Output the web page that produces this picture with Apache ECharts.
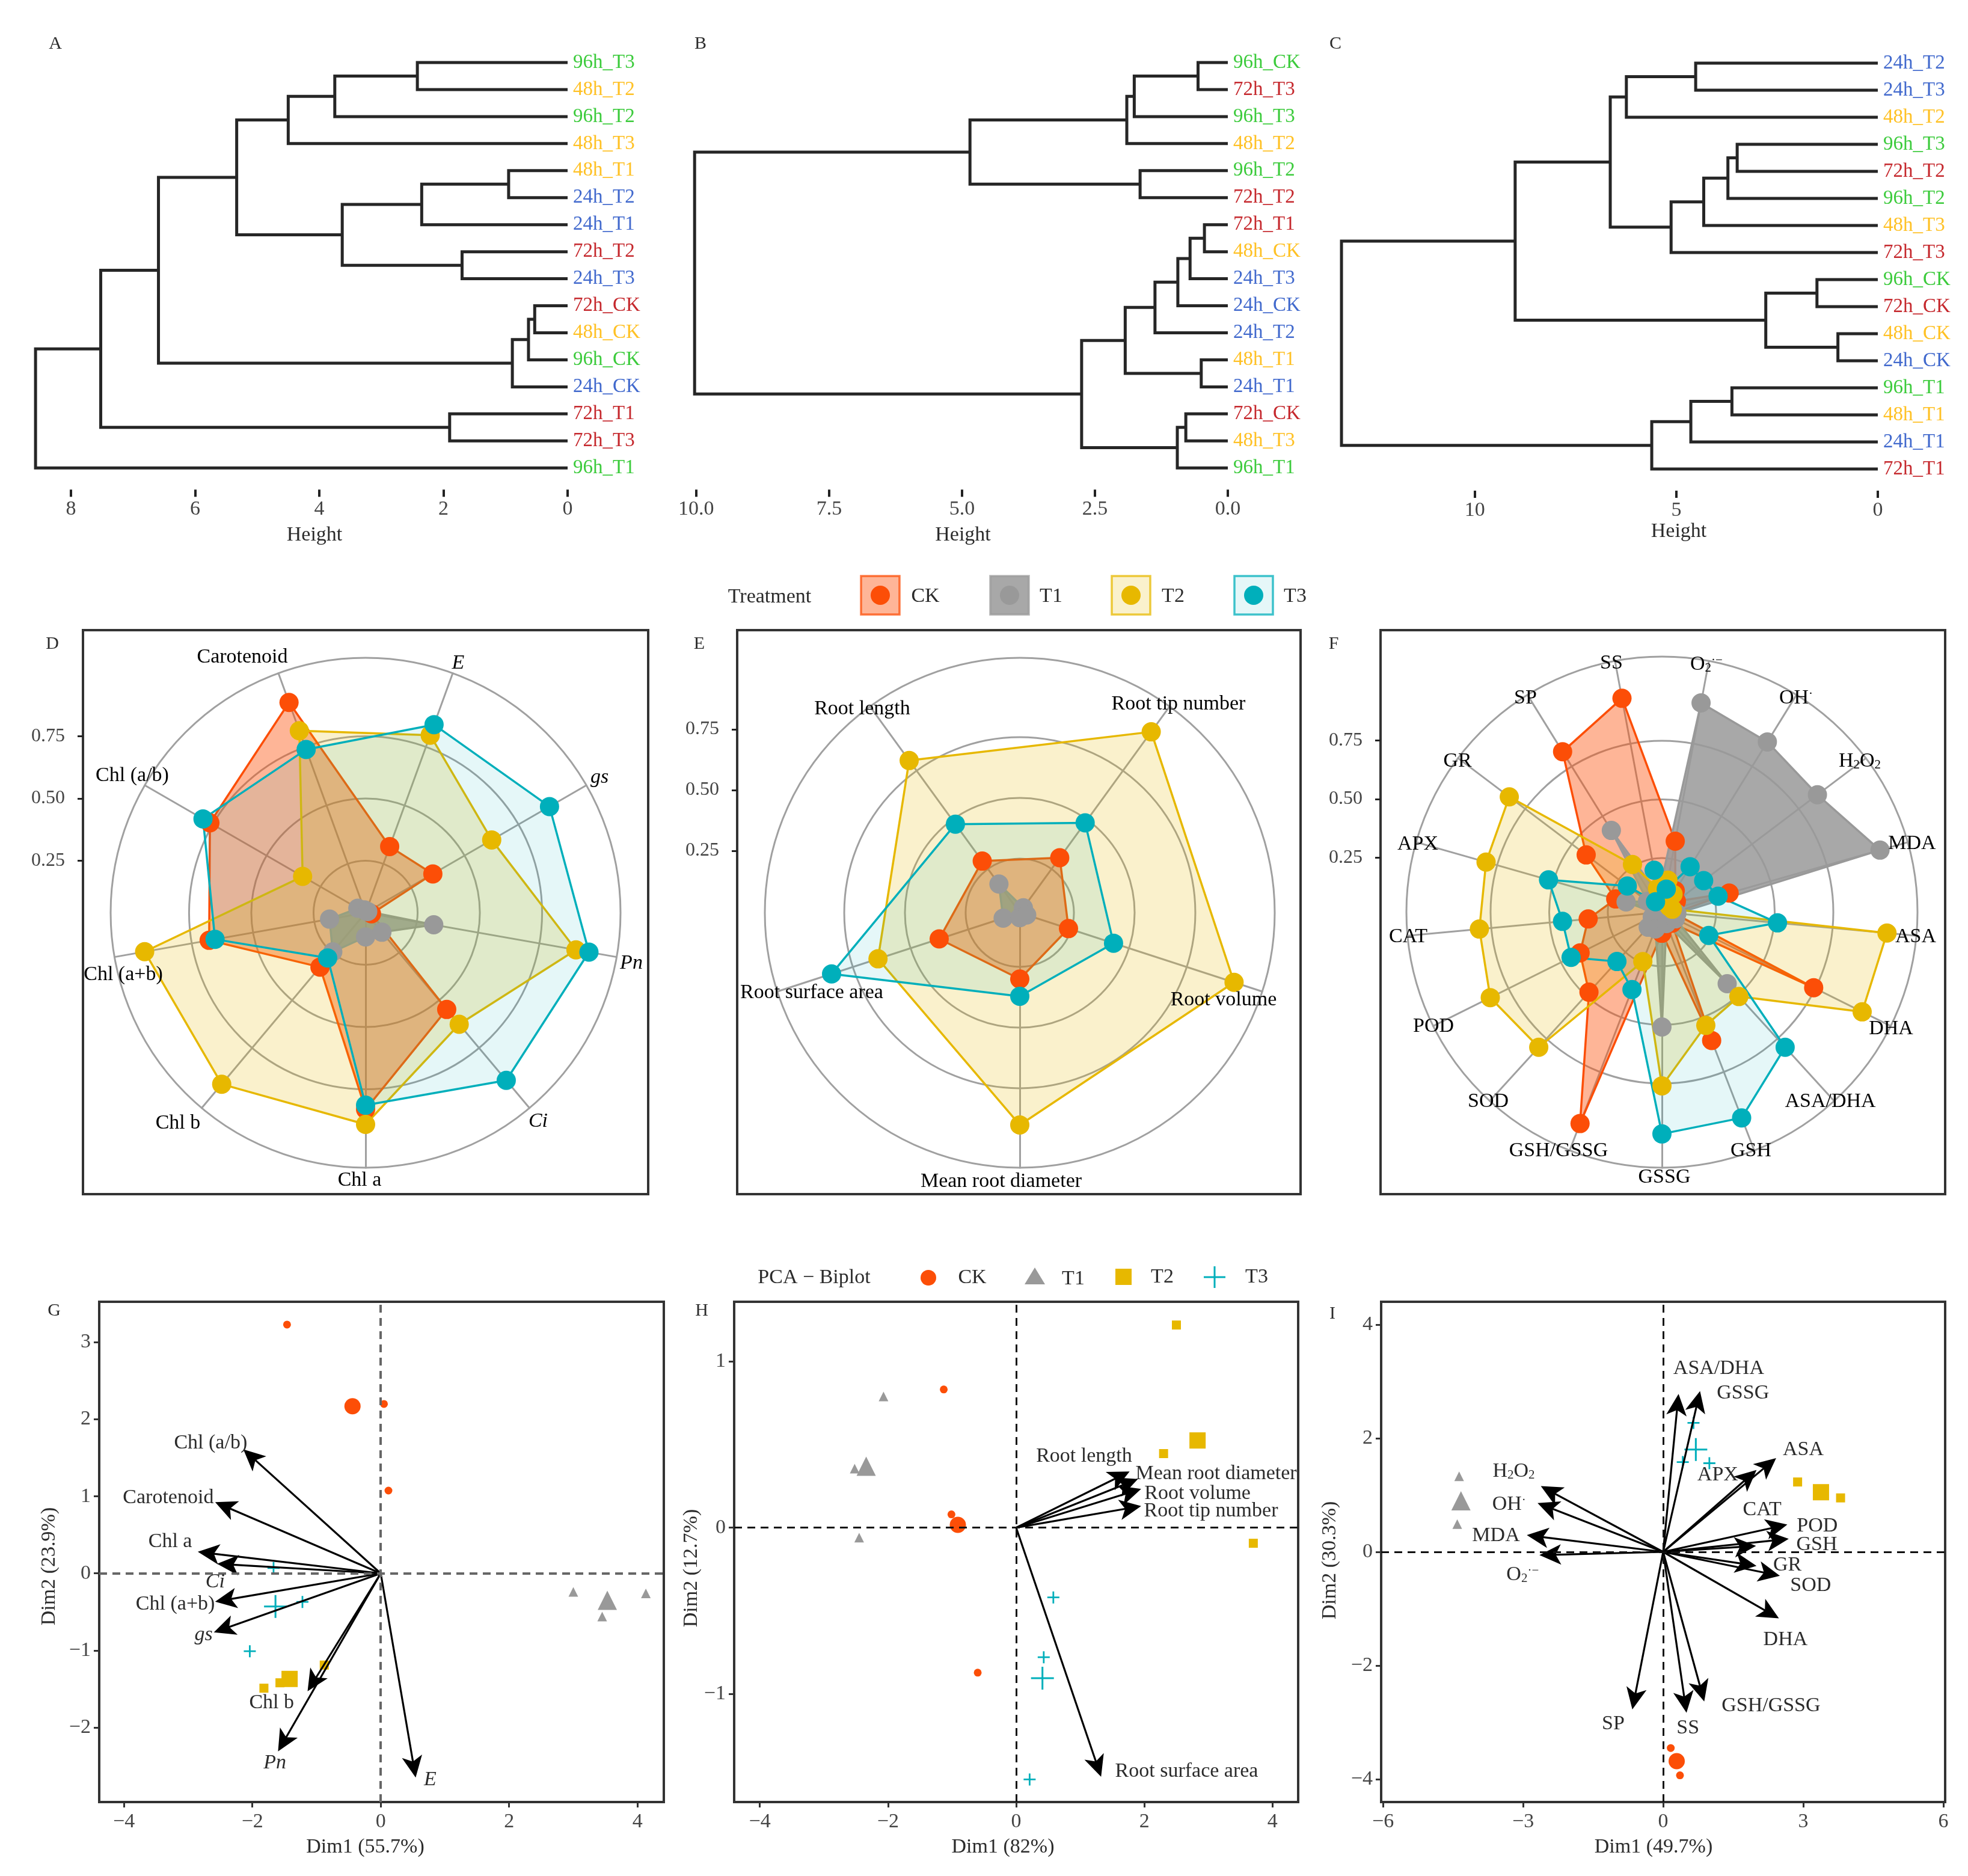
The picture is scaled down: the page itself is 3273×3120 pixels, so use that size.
<!DOCTYPE html>
<html><head><meta charset="utf-8">
<style>html,body{margin:0;padding:0;background:#fff}#c{width:3273px;height:3120px}</style>
<script src="https://cdn.jsdelivr.net/npm/echarts@6/dist/echarts.min.js"></script>
</head><body><div id="c"></div>
<script>
// ---------- DATA ----------
const leaves_A=['96h_T3','48h_T2','96h_T2','48h_T3','48h_T1','24h_T2','24h_T1','72h_T2','24h_T3','72h_CK','48h_CK','96h_CK','24h_CK','72h_T1','72h_T3','96h_T1'];
const tree_A=[8.57,[7.52,[6.59,[5.33,[4.5,[3.75,[2.42,0,1],2],3],[3.63,[2.35,[0.95,4,5],6],[1.7,7,8]]],[0.89,[0.63,[0.53,9,10],11],12]],[1.9,13,14]],15];
const leaves_B=['96h_CK','72h_T3','96h_T3','48h_T2','96h_T2','72h_T2','72h_T1','48h_CK','24h_T3','24h_CK','24h_T2','48h_T1','24h_T1','72h_CK','48h_T3','96h_T1'];
const tree_B=[10.03,[4.85,[1.9,[1.76,[0.56,0,1],2],3],[1.65,4,5]],[2.75,[1.93,[1.37,[0.94,[0.71,[0.44,6,7],8],9],10],[0.5,11,12]],[0.95,[0.79,13,14],15]]];
const leaves_C=['24h_T2','24h_T3','48h_T2','96h_T3','72h_T2','96h_T2','48h_T3','72h_T3','96h_CK','72h_CK','48h_CK','24h_CK','96h_T1','48h_T1','24h_T1','72h_T1'];
const tree_C=[13.31,[9.0,[6.64,[6.24,[4.52,0,1],2],[5.13,[4.32,[3.72,[3.49,3,4],5],6],7]],[2.78,[1.51,8,9],[0.99,10,11]]],[5.61,[4.64,[3.62,12,13],14],15]];
const ticks_A=[0,2,4,6,8], ticks_B=[0,2.5,5,7.5,10], ticks_C=[0,5,10];

const groups=['CK','T1','T2','T3'];
const radar_D_axes=['E','Carotenoid','Chl (a/b)','Chl (a+b)','Chl b','Chl a','Ci','Pn','gs'];
const radar_D_CK=[.324,.94,.763,.679,.326,.831,.548,.065,.353];
const radar_D_T1=[.048,.053,.077,.188,.246,.138,.143,.319,.051];
const radar_D_T2=[.80,.819,.333,.942,.94,.891,.626,.899,.626];
const radar_D_T3=[.845,.739,.795,.655,.278,.814,.92,.952,.894];
const radar_E_axes=['Root tip number','Root length','Root surface area','Mean root diameter','Root volume'];
const radar_E_CK=[.307,.29,.376,.3,.238];
const radar_E_T1=[.052,.173,.099,.047,.057];
const radar_E_T2=[.948,.802,.641,.901,.955];
const radar_E_T3=[.485,.478,.842,.371,.433];
const radar_F_axes=['O2','SS','SP','GR','APX','CAT','POD','SOD','GSH/GSSG','GSSG','GSH','ASA/DHA','DHA','ASA','MDA','H2O2','OH'];
const radar_F_CK=[.327,.947,.824,.424,.224,.335,.409,.481,.986,.109,.606,.083,.742,.071,.317,.096,.127];
const radar_F_T1=[.927,.096,.429,.096,.178,.05,.065,.106,.096,.509,.071,.432,.083,.083,.986,.85,.873];
const radar_F_T2=[.158,.122,.258,.835,.799,.801,.837,.799,.245,.76,.537,.506,.973,.983,.065,.058,.109];
const radar_F_T3=[.119,.201,.071,.204,.522,.445,.452,.304,.373,.965,.96,.799,.242,.514,.268,.242,.247];
const radial_ticks=[.25,.5,.75];

// PCA points: the last point of each list is the group centroid
const G_CK=[[-1.46,3.23],[.05,2.2],[.12,1.075],[-.44,2.17]];
const G_T1=[[3,-.24],[4.13,-.26],[3.45,-.56],[3.53,-.35]];
const G_T2=[[-1.82,-1.49],[-1.57,-1.42],[-.88,-1.19],[-1.42,-1.37]];
const G_T3=[[-1.67,.07],[-1.22,-.37],[-2.04,-1.01],[-1.64,-.43]];
const G_arrows=[[-2.14,1.61],[-2.58,.925],[-2.85,.28],[-2.55,.124],[-2.58,-.367],[-2.6,-.765],[-1.14,-1.53],[-1.6,-2.31],[.544,-2.65]];
const G_names=['Chl (a/b)','Carotenoid','Chl a','*Ci*','Chl (a+b)','*gs*','Chl b','*Pn*','*E*'];
const G_labels=[[-2.65,1.69],[-3.31,.98],[-3.28,.41],[-2.58,-.11],[-3.2,-.4],[-2.76,-.8],[-1.7,-1.68],[-1.65,-2.46],[.77,-2.68]];
const H_CK=[[-1.13,.832],[-1.01,.08],[-.6,-.873],[-.91,.017]];
const H_T1=[[-2.07,.79],[-2.52,.355],[-2.45,-.06],[-2.34,.37]];
const H_T2=[[2.5,1.22],[2.3,.446],[3.7,-.094],[2.83,.525]];
const H_T3=[[.58,-.42],[.43,-.78],[.21,-1.516],[.41,-.906]];
const H_arrows=[[1.77,.338],[1.9,.293],[1.95,.233],[1.95,.13],[1.325,-1.5]];
const H_names=['Root length','Mean root diameter','Root volume','Root tip number','Root surface area'];
const H_labels=[[1.06,.43],[3.12,.326],[2.83,.206],[3.04,.1],[2.66,-1.468]];
const I_CK=[[.163,-3.45],[.36,-3.93],[.27,-3.65],[.29,-3.68]];
const I_T1=[[-4.37,1.33],[-4.41,.49],[-4.34,.91],[-4.33,.9]];
const I_T2=[[2.88,1.23],[3.8,.95],[3.35,1.05],[3.38,1.05]];
const I_T3=[[.65,2.27],[.42,1.58],[.99,1.56],[.7,1.8]];
const I_arrows=[[.33,2.78],[.79,2.83],[2.42,1.65],[2,1.44],[2.66,.48],[1.99,.105],[2.69,.23],[2,-.245],[2.5,-.42],[2.48,-1.17],[.88,-2.63],[.5,-2.83],[-.66,-2.77],[-2.65,-.056],[-2.92,.295],[-2.69,.86],[-2.62,1.157]];
const I_names=['ASA/DHA','GSSG','ASA','APX','POD','CAT','GSH','GR','SOD','DHA','GSH/GSSG','SS','SP','O_2^·−','MDA','OH^·','H_2O_2'];
const I_labels=[[1.19,3.23],[1.71,2.79],[3,1.8],[1.17,1.35],[3.3,.456],[2.12,.74],[3.29,.126],[2.66,-.23],[3.16,-.596],[2.62,-1.55],[2.31,-2.71],[.53,-3.1],[-1.07,-3.03],[-3.01,-.4],[-3.58,.28],[-3.3,.84],[-3.2,1.42]];

// ---------- STYLE ----------
const FF='"Liberation Serif",serif', FS=34;
const C={CK:'#FC4E07',T1:'#999999',T2:'#E7B800',T3:'#00AFBB'};
const ALPHA={CK:.42,T1:.85,T2:.2,T3:.1};
const TIME={'24h':'#4169CD','48h':'#FFC125','72h':'#C5282D','96h':'#3CCB3C'};
const TXT='#2b2b2b', AX='#444';
const RICH={n:{fontFamily:FF,fontSize:FS,color:TXT},i:{fontFamily:FF,fontSize:FS,fontStyle:'italic',color:TXT},
  s:{fontFamily:FF,fontSize:21,color:TXT,verticalAlign:'bottom'},u:{fontFamily:FF,fontSize:21,color:TXT,verticalAlign:'top'}};
function rich(str){
  return str.replace(/_([^_^*])|\^(\S+)|\*([^*]+)\*|([^_^*]+)/g,(m,a,b,c,d)=>a?`{s|${a}}`:b?`{u|${b}}`:c?`{i|${c}}`:`{n|${d}}`);
}
const grids=[],xAxes=[],yAxes=[],series=[],radars=[],polars=[],radiusAxes=[],angleAxes=[],graphics=[];
function text(x,y,t,extra){graphics.push({type:'text',x,y,z:50,silent:true,style:Object.assign({text:t,fill:TXT,font:`${FS}px ${FF}`,align:'center',verticalAlign:'middle'},extra||{})});}
function rtext(x,y,t){graphics.push({type:'text',x,y,z:50,silent:true,style:{text:rich(t),rich:RICH,align:'center',verticalAlign:'middle'}});}

// ---------- DENDROGRAMS ----------
function segments(node,leaves,out){
  if(typeof node==='number')return {y:node,h:0};
  const a=segments(node[1],leaves,out),b=segments(node[2],leaves,out);
  out.push([node[0],a.y,a.h,b.y,b.h]);
  return {y:(a.y+b.y)/2,h:node[0]};
}
function dendro(leaves,tree,ticks,o){
  const gi=grids.length,segs=[];segments(tree,leaves,segs);
  grids.push({left:o.left,width:o.right-o.left,top:o.y0-o.step,height:o.step*(o.ymax+1)});
  xAxes.push({gridIndex:gi,type:'value',inverse:true,min:0,max:o.xmax,position:'bottom',
    name:'Height',nameLocation:'middle',nameGap:o.nameGap,nameTextStyle:{fontFamily:FF,fontSize:FS,color:TXT,padding:[0,0,0,Math.max(o.shift*2,0)]},
    splitLine:{show:false},axisLine:{show:false,onZero:false},
    axisTick:{show:true,inside:false,length:12,customValues:ticks,lineStyle:{color:'#222',width:4}},
    axisLabel:{show:true,customValues:ticks,fontFamily:FF,fontSize:FS,color:AX,margin:16,formatter:v=>o.fmt?Number(v).toFixed(1):String(v)}});
  yAxes.push({gridIndex:gi,type:'value',inverse:true,position:'right',min:-1,max:o.ymax,interval:1,
    splitLine:{show:false},axisLine:{show:false,onZero:false},axisTick:{show:false},
    axisLabel:{show:true,margin:9,fontFamily:FF,fontSize:FS-1,showMinLabel:false,showMaxLabel:false,
      formatter:v=>leaves[v]||'',color:v=>leaves[v]?TIME[leaves[v].slice(0,3)]:'#000'}});
  series.push({type:'custom',xAxisIndex:gi,yAxisIndex:gi,clip:false,silent:true,data:segs,
    encode:{x:0,y:1},
    renderItem:(p,api)=>{
      const h=api.value(0),ya=api.value(1),ha=api.value(2),yb=api.value(3),hb=api.value(4);
      return {type:'polyline',shape:{points:[api.coord([ha,ya]),api.coord([h,ya]),api.coord([h,yb]),api.coord([hb,yb])]},
        style:{fill:null,stroke:'#262626',lineWidth:5,lineJoin:'miter'}};
    }});
}
dendro(leaves_A,tree_A,ticks_A,{left:56,right:944,xmax:8.6,y0:104,step:44.95,ymax:15.8,nameGap:59,shift:23});
dendro(leaves_B,tree_B,ticks_B,{left:1149,right:2042,xmax:10.1,y0:104,step:44.95,ymax:15.8,nameGap:59,shift:6,fmt:true});
dendro(leaves_C,tree_C,ticks_C,{left:2225,right:3123,xmax:13.4,y0:105,step:45.0,ymax:15.8,nameGap:48,shift:118});

// ---------- RADARS ----------
function radarPanel(axes,vals,o){
  const gi=grids.length,ri=radars.length;
  grids.push({left:o.box[0],width:o.box[1]-o.box[0],top:1048,height:938,show:true,borderColor:'#333',borderWidth:4,backgroundColor:'transparent'});
  xAxes.push({gridIndex:gi,type:'value',min:0,max:1,show:false});
  yAxes.push({gridIndex:gi,type:'value',min:o.yr[0],max:o.yr[1],splitLine:{show:false},axisLine:{show:false},
    axisTick:{show:true,length:9,customValues:radial_ticks,lineStyle:{color:'#222',width:3}},
    axisLabel:{show:true,customValues:radial_ticks,fontFamily:FF,fontSize:FS-2,color:AX,margin:30,formatter:v=>Number(v).toFixed(2)}});
  polars.push({center:o.c,radius:[0,o.R]});
  angleAxes.push({polarIndex:ri,type:'value',min:0,max:360,show:false});
  radiusAxes.push({polarIndex:ri,type:'value',min:o.min,max:o.max,axisLine:{show:false},axisLabel:{show:false},
    axisTick:{show:false,customValues:radial_ticks.concat([o.max])},splitLine:{show:true,lineStyle:{color:'#a0a0a0',width:3}}});
  radars.push({center:o.c,radius:o.R,startAngle:o.start,shape:'circle',splitNumber:1,
    indicator:axes.map(n=>({name:n,min:o.min,max:o.max})),axisName:{show:false},
    axisLine:{show:true,lineStyle:{color:'#a0a0a0',width:3}},axisTick:{show:false},splitLine:{show:false},splitArea:{show:false}});
  // polygons first, so that the fills never veil the dots of the other groups
  groups.forEach((g,i)=>series.push({type:'radar',radarIndex:ri,name:g,symbol:'none',silent:true,z:2+i,
    lineStyle:{color:C[g],width:3.5},itemStyle:{color:C[g]},areaStyle:{color:C[g],opacity:ALPHA[g]},data:[{value:vals[i],name:g}]}));
  groups.forEach((g,i)=>series.push({type:'radar',radarIndex:ri,name:g+' points',symbol:'circle',symbolSize:32,silent:true,z:10+i,
    lineStyle:{width:0,opacity:0},itemStyle:{color:C[g]},data:[{value:vals[i],name:g}]}));
  o.labels.forEach(l=>rtext(l[0],l[1],l[2]));
}
radarPanel(radar_D_axes,[radar_D_CK,radar_D_T1,radar_D_T2,radar_D_T3],{box:[138,1078],yr:[-1.09,1.176],c:[608,1518],R:424,start:70,min:.041,max:1.065,
 labels:[[403,1093,'Carotenoid'],[762,1103,'*E*'],[997,1293,'*gs*'],[1050,1602,'*Pn*'],[895,1865,'*Ci*'],[598,1963,'Chl a'],[296,1868,'Chl b'],[205,1621,'Chl (a+b)'],[220,1290,'Chl (a/b)']]});
radarPanel(radar_E_axes,[radar_E_CK,radar_E_T1,radar_E_T2,radar_E_T3],{box:[1226,2163],yr:[-1.163,1.158],c:[1696,1518],R:424,start:54,min:.027,max:1.077,
 labels:[[1434,1179,'Root length'],[1960,1171,'Root tip number'],[2035,1663,'Root volume'],[1665,1965,'Mean root diameter'],[1350,1651,'Root surface area']]});
radarPanel(radar_F_axes,[radar_F_CK,radar_F_T1,radar_F_T2,radar_F_T3],{box:[2296,3235],yr:[-1.185,1.22],c:[2764,1517],R:425,start:79.41,min:.019,max:1.109,
 labels:[[2680,1103,'SS'],[2838,1105,'O_2^·−'],[2987,1161,'OH^·'],[3093,1266,'H_2O_2'],[3180,1403,'MDA'],[3186,1558,'ASA'],[3145,1711,'DHA'],[3044,1832,'ASA/DHA'],[2912,1914,'GSH'],[2768,1958,'GSSG'],[2592,1914,'GSH/GSSG'],[2475,1832,'SOD'],[2384,1707,'POD'],[2342,1558,'CAT'],[2358,1404,'APX'],[2424,1266,'GR'],[2537,1161,'SP']]});

// ---------- BIPLOTS ----------
const PLUS_S='path://M43,0H57V43H100V57H57V100H43V57H0V43H43Z', PLUS_B='path://M46,0H54V46H100V54H54V100H46V54H0V46H46Z';
const SYM={CK:{s:()=>'circle',a:13,b:27},T1:{s:()=>'triangle',a:16,b:32},T2:{s:()=>'rect',a:15,b:27},T3:{s:big=>big?PLUS_B:PLUS_S,a:20,b:38}};
function biplot(pts,arrows,names,labels,o){
  const gi=grids.length;
  grids.push({left:o.box[0],width:o.box[1]-o.box[0],top:2165,height:832,show:true,borderColor:'#333',borderWidth:4,backgroundColor:'transparent'});
  const lab={fontFamily:FF,fontSize:FS,color:AX,formatter:v=>String(v).replace('-','−')};
  const tick={show:true,length:9,lineStyle:{color:'#333',width:3}};
  xAxes.push({gridIndex:gi,type:'value',min:o.xr[0],max:o.xr[1],splitLine:{show:false},axisLine:{show:false,onZero:false},
    axisTick:Object.assign({customValues:o.xt},tick),axisLabel:Object.assign({show:true,customValues:o.xt,margin:16},lab),
    name:o.xn,nameLocation:'middle',nameGap:58,nameTextStyle:{fontFamily:FF,fontSize:FS,color:TXT,padding:[0,o.xs>0?0:-o.xs*2,0,0]}});
  yAxes.push({gridIndex:gi,type:'value',min:o.yr[0],max:o.yr[1],splitLine:{show:false},axisLine:{show:false,onZero:false},
    axisTick:Object.assign({customValues:o.yt},tick),axisLabel:Object.assign({show:true,customValues:o.yt,margin:14},lab),
    name:o.yn,nameLocation:'middle',nameGap:o.ygap,nameRotate:90,nameTextStyle:{fontFamily:FF,fontSize:FS,color:TXT,padding:[0,o.ys*2,0,0]}});
  const zero={silent:true,symbol:'none',label:{show:false},lineStyle:{type:[13,9],color:o.dash,width:o.dashW},data:[{xAxis:0},{yAxis:0}],animation:false};
  groups.forEach((g,i)=>{
    const last=pts[i].length-1,S=SYM[g];
    series.push({type:'scatter',xAxisIndex:gi,yAxisIndex:gi,silent:true,name:g,z:3,data:pts[i],itemStyle:{color:C[g],opacity:1},
      symbol:(v,p)=>S.s(p.dataIndex===last),symbolSize:(v,p)=>p.dataIndex===last?S.b:S.a,
      markLine:i===0?zero:undefined});
  });
  series.push({type:'custom',xAxisIndex:gi,yAxisIndex:gi,silent:true,clip:false,z:4,data:arrows,encode:{x:0,y:1},
    renderItem:(p,api)=>{
      const a=api.coord([0,0]),b=api.coord([api.value(0),api.value(1)]);
      const dx=b[0]-a[0],dy=b[1]-a[1],L=Math.hypot(dx,dy),ux=dx/L,uy=dy/L,nx=-uy,ny=ux;
      const hl=36,hw=17,nt=27;
      const q=(f,w)=>[b[0]-ux*f+nx*w,b[1]-uy*f+ny*w];
      return {type:'group',children:[
        {type:'line',shape:{x1:a[0],y1:a[1],x2:b[0]-ux*10,y2:b[1]-uy*10},style:{stroke:'#000',lineWidth:3.2}},
        {type:'polygon',shape:{points:[b,q(hl,hw),q(nt,0),q(hl,-hw)]},style:{fill:'#000'}}]};
    }});
  series.push({type:'scatter',xAxisIndex:gi,yAxisIndex:gi,silent:true,z:5,symbolSize:1,itemStyle:{color:'rgba(0,0,0,0)',opacity:1},
    data:labels.map((l,i)=>({value:l,name:names[i]})),
    label:{show:true,opacity:1,position:'inside',align:'center',verticalAlign:'middle',formatter:p=>rich(p.name),rich:RICH}});
}
biplot([G_CK,G_T1,G_T2,G_T3],G_arrows,G_names,G_labels,{box:[165,1104],xr:[-4.386,4.41],yr:[-2.968,3.526],xt:[-4,-2,0,2,4],yt:[-2,-1,0,1,2,3],xn:'Dim1 (55.7%)',yn:'Dim2 (23.9%)',xs:-27,ys:24,ygap:66,dash:'#666',dashW:4});
biplot([H_CK,H_T1,H_T2,H_T3],H_arrows,H_names,H_labels,{box:[1221,2159],xr:[-4.4,4.4],yr:[-1.652,1.36],xt:[-4,-2,0,2,4],yt:[-1,0,1],xn:'Dim1 (82%)',yn:'Dim2 (12.7%)',xs:-22,ys:27,ygap:50,dash:'#111',dashW:3});
biplot([I_CK,I_T1,I_T2,I_T3],I_arrows,I_names,I_labels,{box:[2297,3235],xr:[-6.04,6.04],yr:[-4.4,4.4],xt:[-6,-3,0,3,6],yt:[-4,-2,0,2,4],xn:'Dim1 (49.7%)',yn:'Dim2 (30.3%)',xs:-16,ys:14,ygap:68,dash:'#111',dashW:3});

// ---------- PANEL LETTERS + LEGENDS ----------
[['A',92,73],['B',1165,73],['C',2221,73],['D',87,1071],['E',1163,1071],['F',2218,1071],['G',90,2180],['H',1167,2180],['I',2216,2185]].forEach(l=>text(l[1],l[2],l[0],{font:`30px ${FF}`}));
text(1280,993,'Treatment');
[['CK',1464,1539],['T1',1679,1748],['T2',1881,1951],['T3',2085,2154]].forEach(k=>{
  const g=k[0];
  graphics.push({type:'rect',z:49,silent:true,shape:{x:k[1]-32,y:958,width:64,height:64},style:{fill:C[g],opacity:ALPHA[g],stroke:'none'}});
  graphics.push({type:'rect',z:49,silent:true,shape:{x:k[1]-32,y:958,width:64,height:64},style:{fill:'none',stroke:C[g],lineWidth:3.5,opacity:.75}});
  graphics.push({type:'circle',z:49,silent:true,shape:{cx:k[1],cy:990,r:16},style:{fill:C[g]}});
  text(k[2],992,g);
});
text(1354,2125,'PCA − Biplot');
graphics.push({type:'circle',z:49,silent:true,shape:{cx:1544,cy:2125,r:13},style:{fill:C.CK}});
text(1617,2125,'CK');
graphics.push({type:'polygon',z:49,silent:true,shape:{points:[[1721,2108],[1738,2136],[1704,2136]]},style:{fill:C.T1}});
text(1785,2127,'T1');
graphics.push({type:'rect',z:49,silent:true,shape:{x:1855,y:2110,width:27,height:27},style:{fill:C.T2}});
text(1933,2124,'T2');
graphics.push({type:'line',z:49,silent:true,shape:{x1:2002,y1:2124,x2:2038,y2:2124},style:{stroke:C.T3,lineWidth:3}});
graphics.push({type:'line',z:49,silent:true,shape:{x1:2020,y1:2106,x2:2020,y2:2142},style:{stroke:C.T3,lineWidth:3}});
text(2090,2124,'T3');

const chart=echarts.init(document.getElementById('c'),null,{renderer:'canvas',devicePixelRatio:1,width:3273,height:3120});
chart.setOption({animation:false,backgroundColor:'#fff',tooltip:{show:false},
  grid:grids,xAxis:xAxes,yAxis:yAxes,radar:radars,polar:polars,radiusAxis:radiusAxes,angleAxis:angleAxes,series:series,graphic:{elements:graphics}});
</script></body></html>
